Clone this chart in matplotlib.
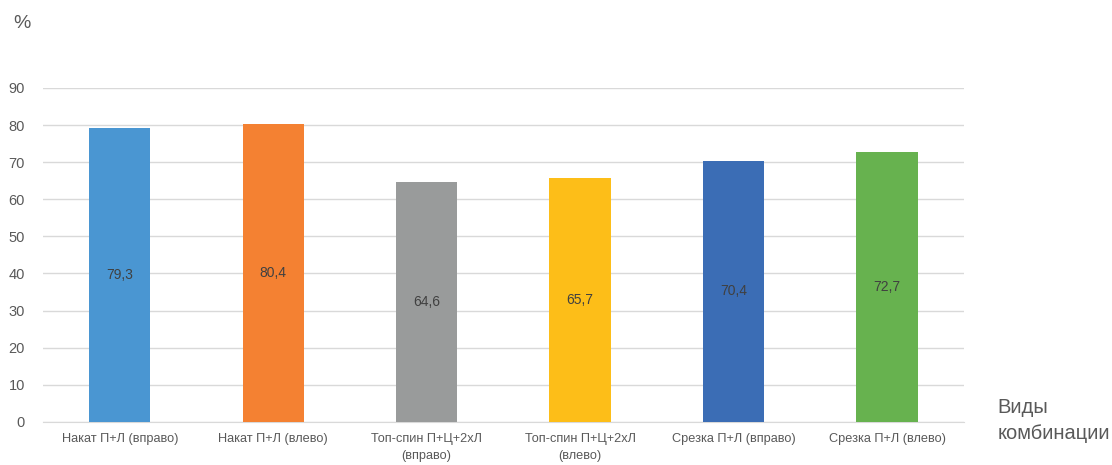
import matplotlib
matplotlib.use("Agg")
import matplotlib.pyplot as plt
import numpy as np

# categories and values
categories = [
    "Накат П+Л (вправо)",
    "Накат П+Л (влево)",
    "Топ-спин П+Ц+2хЛ\n(вправо)",
    "Топ-спин П+Ц+2хЛ\n(влево)",
    "Срезка П+Л (вправо)",
    "Срезка П+Л (влево)",
]
values = [79.3, 80.4, 64.6, 65.7, 70.4, 72.7]
bar_colors = ["#4A96D2", "#F48132", "#999B9B", "#FDBE18", "#3B6DB5", "#67B24F"]
yticks = np.arange(0, 91, 10)

plt.rcParams['font.family'] = ['Liberation Sans', 'DejaVu Sans']

fig = plt.figure(figsize=(11.12, 4.65), dpi=100)
ax = fig.add_axes([0.0387, 0.0925, 0.828, 0.7185])

x = np.arange(len(categories))
bars = ax.bar(x, values, width=0.4, color=bar_colors, zorder=3)

# value labels in the middle of each bar
for xi, v in zip(x, values):
    ax.text(xi, v / 2, "{:.1f}".format(v).replace(".", ","), ha="center", va="center",
            fontsize=10, color="#404040", zorder=4)

ax.set_xlim(-0.5, len(categories) - 0.5)
ax.set_ylim(0, 90)
ax.set_yticks(yticks)
ax.set_xticks(x)
ax.set_xticklabels(categories, fontsize=9.2, color="#595959", linespacing=1.6)
ax.tick_params(axis="y", labelsize=10.5, labelcolor="#595959", length=0, pad=13)
ax.tick_params(axis="x", length=0, pad=8)

ax.grid(axis="y", color="#D9D9D9", linewidth=1, zorder=0)
for s in ["top", "right", "left"]:
    ax.spines[s].set_visible(False)
ax.spines["bottom"].set_color("#D9D9D9")
ax.spines["bottom"].set_zorder(0)

fig.text(0.012, 0.95, "%", fontsize=14, color="#595959", ha="left", va="center")
fig.text(0.897, 0.095, "Виды\nкомбинации", fontsize=14.5, color="#595959",
         ha="left", va="center", linespacing=1.45)

fig.savefig("out.png", dpi=100)
